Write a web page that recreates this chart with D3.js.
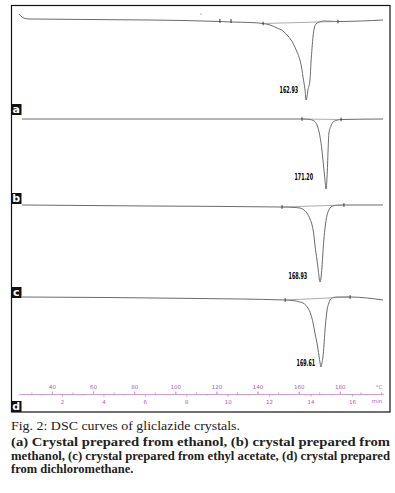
<!DOCTYPE html>
<html>
<head>
<meta charset="utf-8">
<script src="https://cdn.jsdelivr.net/npm/d3@7"></script>
<style>
  body { margin: 0; background: #fff; }
  svg { display: block; }
</style>
</head>
<body>
<svg id="chart"></svg>
<script>
// DSC traces, [temperature °C, heat flow (arbitrary, endo down)]
const curveA = [
  [24.0, 5], [25.5, 2], [26.9, 0.5], [29.4, 0], [87.7, -1], [121.7, -2.5], [127.1, -3],
  [136.3, -3.5], [142.7, -4.5], [146.1, -6], [149.5, -9], [152.4, -12], [154.8, -17],
  [157.2, -24], [159.2, -33], [160.6, -41], [161.6, -51], [162.1, -58], [163.1, -71],
  [163.6, -81], [164.0, -78], [164.5, -71], [165.5, -61], [166.0, -43], [166.5, -29],
  [167.0, -17], [167.5, -10], [168.4, -5], [169.9, -3], [172.3, -2], [179.1, -2.5], [201.0, -1]
]
const curveB = [
  [25.5, 0], [112.0, 0], [161.6, 0], [165.5, -0.5], [167.5, -2], [168.9, -6], [170.4, -18],
  [171.3, -31], [171.8, -41], [172.8, -61], [173.3, -70], [173.8, -58], [174.3, -31],
  [174.7, -14], [175.7, -7], [176.7, -3], [178.1, -1.5], [180.6, -0.5], [201.0, 0]
]
const curveC = [
  [25.5, 0], [87.7, -1], [151.9, -2], [158.2, -2.5], [160.6, -3], [162.6, -5], [164.0, -8],
  [165.5, -14], [166.5, -20], [167.5, -32], [167.9, -40], [168.9, -55], [169.4, -63],
  [170.4, -77], [170.9, -72], [171.3, -63], [171.8, -47], [172.3, -33], [172.8, -23],
  [173.8, -10], [174.7, -5], [175.7, -2], [177.7, -0.5], [182.0, 0], [201.0, 0]
]
const curveD = [
  [25.5, 0], [112.0, -1.5], [153.4, -3], [157.2, -3.5], [160.6, -5], [162.1, -6], [163.6, -8.5],
  [164.5, -11], [166.0, -18], [167.0, -26], [167.9, -36], [168.9, -46], [169.9, -59],
  [170.4, -66], [170.9, -70], [171.3, -66], [171.8, -60], [172.3, -48], [172.8, -33],
  [173.3, -22], [173.8, -13], [174.7, -6], [175.2, -3], [176.7, -0.5], [179.1, 0],
  [185.0, 0], [201.0, -3]
]

// integration limits (°C) and peak labels
const limits = [[142.7, 179.1], [161.6, 180.6], [151.9, 182.0], [153.4, 185.0]]
const peakLabels = ["162.93", "171.20", "168.93", "169.61"]
const panelNames = ["a", "b", "c", "d"]

// axis ticks
const tempTicks = [40, 60, 80, 100, 120, 140, 160, 180]
const timeTicks = [2, 4, 6, 8, 10, 12, 14, 16]

const captionTitle = "Fig. 2: DSC curves of gliclazide crystals."
const captionLines = [
  "(a) Crystal prepared from ethanol, (b) crystal prepared from",
  "methanol, (c) crystal prepared from ethyl acetate, (d) crystal prepared",
  "from dichloromethane."
]

const width = 395
const height = 493
const svg = d3.select("#chart").attr("width", width).attr("height", height)

const x = d3.scaleLinear().domain([24, 201]).range([19, 383])
const xTime = d3.scaleLinear().domain([0, 17.5]).range([20.6, 383])

// baseline pixel of each panel, label box top, label offsets
const panels = [
  { data: curveA, base: 19, box: 104, lx: -8, ly: -11 },
  { data: curveB, base: 119, box: 193, lx: -13, ly: -13 },
  { data: curveC, base: 205, box: 287, lx: -13, ly: -7 },
  { data: curveD, base: 297, box: 401, lx: -6, ly: -5 }
]

const interp = (data, t) => {
  const i = d3.bisector(d => d[0]).left(data, t)
  if (i <= 0) return data[0][1]
  const a = data[i - 1], b = data[i]
  return a[1] + (b[1] - a[1]) * (t - a[0]) / (b[0] - a[0])
}

panels.forEach((p, i) => {
  const y = d3.scaleLinear().domain([0, -100]).range([p.base, p.base + 100])
  const g = svg.append("g")

  const line = d3.line()
    .x(d => x(d[0]))
    .y(d => y(d[1]))
    .curve(d3.curveMonotoneX)

  g.append("path")
    .datum(p.data)
    .attr("d", line)
    .attr("fill", "none")
    .attr("stroke", "#5a5a5a")
    .attr("stroke-width", 0.9)

  // integration baseline
  const [t0, t1] = limits[i]
  g.append("line")
    .attr("x1", x(t0)).attr("y1", y(interp(p.data, t0)))
    .attr("x2", x(t1)).attr("y2", y(interp(p.data, t1)))
    .attr("stroke", "#888")
    .attr("stroke-width", 0.7)

  // limit markers
  g.selectAll(".mark")
    .data(limits[i])
    .join("line")
    .attr("x1", d => x(d)).attr("x2", d => x(d))
    .attr("y1", d => y(interp(p.data, d)) - 1.8)
    .attr("y2", d => y(interp(p.data, d)) + 1.8)
    .attr("stroke", "#333")
    .attr("stroke-width", 1)

  // peak label
  const peak = d3.least(p.data, d => d[1])
  g.append("text")
    .attr("x", x(peak[0]) + p.lx)
    .attr("y", y(peak[1]) + p.ly + 3.5)
    .attr("text-anchor", "end")
    .attr("font-family", "'Liberation Sans Narrow', 'DejaVu Sans Condensed', sans-serif")
    .attr("font-weight", "bold")
    .attr("font-size", 9)
    .attr("textLength", 18.5)
    .attr("lengthAdjust", "spacingAndGlyphs")
    .attr("fill", "#000")
    .text(peakLabels[i])

  // panel letter box
  g.append("rect")
    .attr("x", 11).attr("y", p.box)
    .attr("width", 10.5).attr("height", 11)
    .attr("fill", "#111")
  g.append("text")
    .attr("x", 16.2).attr("y", p.box + 9)
    .attr("text-anchor", "middle")
    .attr("font-family", "'DejaVu Sans', sans-serif")
    .attr("font-weight", "bold")
    .attr("font-size", 11)
    .attr("fill", "#fff")
    .text(panelNames[i])
})

// extra marks on panel a
svg.append("g")
  .selectAll("line")
  .data([121.7, 127.1])
  .join("line")
  .attr("x1", d => x(d)).attr("x2", d => x(d))
  .attr("y1", 19).attr("y2", 23)
  .attr("stroke", "#333")
svg.append("circle").attr("cx", x(112.5)).attr("cy", 14).attr("r", 0.6).attr("fill", "#555")

// axis
const axisY = 394
const axisColor = "#d49ad4"
const labelColor = "#b35ab3"

const styleAxis = g => {
  g.select(".domain").attr("stroke", axisColor)
  g.selectAll(".tick line").attr("stroke", axisColor)
  g.selectAll(".tick text")
    .attr("fill", labelColor)
    .attr("font-family", "'DejaVu Sans', sans-serif")
    .attr("font-size", 5.5)
}

svg.append("g")
  .attr("transform", `translate(0, ${axisY})`)
  .call(d3.axisTop(x).tickValues(d3.range(30, 201, 10)).tickSize(1.5).tickFormat("").tickSizeOuter(0))
  .call(styleAxis)
svg.append("g")
  .attr("transform", `translate(0, ${axisY})`)
  .call(d3.axisTop(x).tickValues(tempTicks).tickSize(2.5).tickPadding(3).tickSizeOuter(0))
  .call(styleAxis)
svg.append("g")
  .attr("transform", `translate(0, ${axisY})`)
  .call(d3.axisBottom(xTime).tickValues(d3.range(1, 18, 1)).tickSize(1.5).tickFormat("").tickSizeOuter(0))
  .call(styleAxis)
  .call(g => g.select(".domain").remove())
svg.append("g")
  .attr("transform", `translate(0, ${axisY})`)
  .call(d3.axisBottom(xTime).tickValues(timeTicks).tickSize(2.5).tickPadding(4).tickSizeOuter(0))
  .call(styleAxis)
  .call(g => g.select(".domain").remove())

svg.append("text")
  .attr("x", 379).attr("y", 389)
  .attr("text-anchor", "middle")
  .attr("font-family", "'DejaVu Sans', sans-serif")
  .attr("font-size", 5.5)
  .attr("fill", labelColor)
  .text("°C")
svg.append("text")
  .attr("x", 377).attr("y", 403)
  .attr("text-anchor", "middle")
  .attr("font-family", "'DejaVu Sans', sans-serif")
  .attr("font-size", 5.5)
  .attr("fill", labelColor)
  .text("min")

// frame
svg.append("rect")
  .attr("x", 11.5).attr("y", 5.5)
  .attr("width", 378.5).attr("height", 406.5)
  .attr("fill", "none")
  .attr("stroke", "#111")
  .attr("stroke-width", 1.2)

// caption
const caption = svg.append("g")
  .attr("font-family", "'Liberation Serif', 'Times New Roman', serif")
  .attr("fill", "#222")

caption.append("text")
  .attr("x", 11).attr("y", 430)
  .attr("font-size", 13.5)
  .attr("textLength", 229)
  .attr("lengthAdjust", "spacingAndGlyphs")
  .text(captionTitle)

captionLines.forEach((t, i) => {
  const txt = caption.append("text")
    .attr("x", 11).attr("y", 446 + i * 13.7)
    .attr("font-size", 12.5)
    .attr("font-weight", "bold")
    .text(t)
  if (i < captionLines.length - 1) {
    txt.attr("textLength", 379).attr("lengthAdjust", "spacingAndGlyphs")
  }
})
</script>
</body>
</html>
